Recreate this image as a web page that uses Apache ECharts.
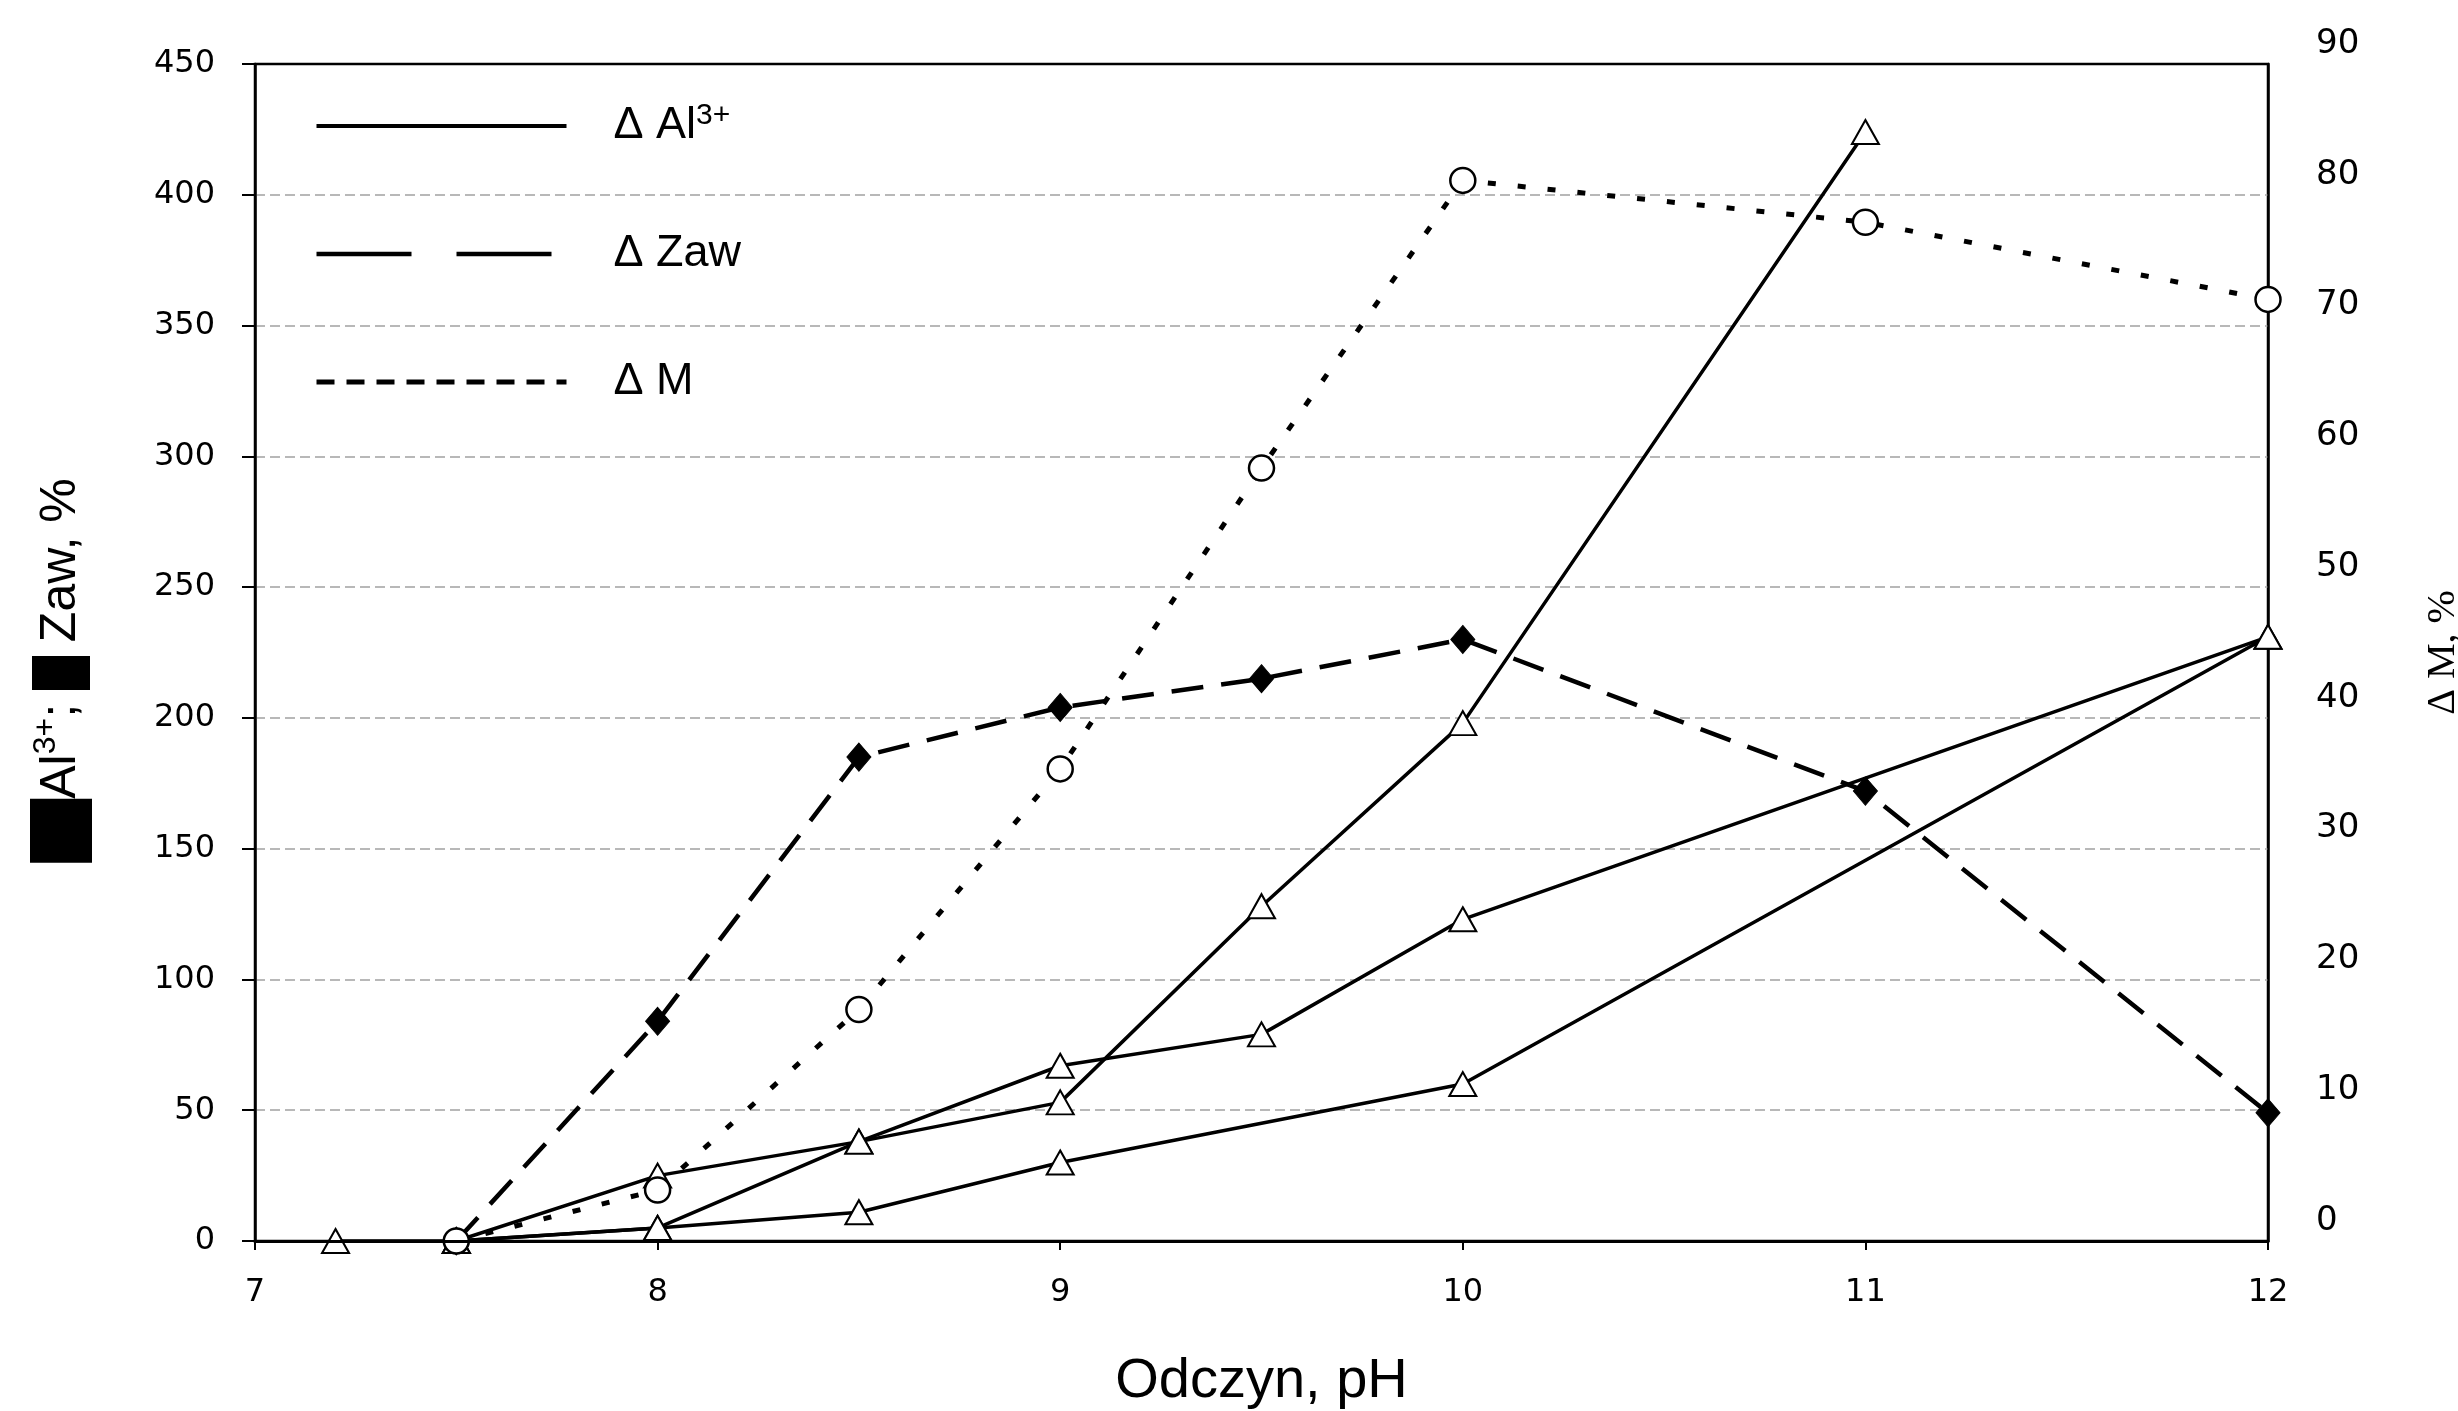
<!DOCTYPE html>
<html>
<head>
<meta charset="utf-8">
<script src="https://cdn.jsdelivr.net/npm/echarts@6/dist/echarts.min.js"></script>
<style>
html,body{margin:0;padding:0;background:#fff;}
#chart{width:2458px;height:1411px;}
</style>
</head>
<body>
<div id="chart"></div>
<script>
// ---- data ----
const phA  = [7.2, 7.5, 8, 8.5, 9, 9.5, 10, 11];
const alA  = [0, 0, 25, 38, 53, 128, 198, 424];
const phB  = [7.5, 8, 8.5, 9, 9.5, 10, 12];
const alB  = [0, 5, 38, 67, 79, 123, 231];
const phC  = [7.5, 8, 8.5, 9, 10, 12];
const alC  = [0, 5, 11, 30, 60, 231];
const phZaw = [7.5, 8, 8.5, 9, 9.5, 10, 11, 12];
const zaw   = [0, 84, 185, 204, 215, 230, 172, 49];
const phM   = [7.5, 8, 8.5, 9, 9.5, 10, 11, 12];
const dM    = [0, 3.9, 17.7, 36.1, 59.1, 81.1, 77.9, 72.0];
const xRange = [7, 12, 1];      // min, max, step (pH)
const leftRange = [0, 450, 50]; // Al3+, Zaw %
const rightRange = [0, 90, 10]; // dM %

const zip = (xs, ys) => xs.map((x, i) => [x, ys[i]]);
const SANS = 'Liberation Sans';
const TICKF = 'DejaVu Sans';

const triStyle = {
  type: 'line', symbol: 'triangle', symbolSize: [27, 24], yAxisIndex: 0, xAxisIndex: 0,
  itemStyle: { color: '#fff', borderColor: '#000', borderWidth: 2 },
  lineStyle: { color: '#000', width: 3.5, type: 'solid' },
  z: 3
};

const chart = echarts.init(document.getElementById('chart'), null, { renderer: 'canvas' });
chart.setOption({
  backgroundColor: '#fff',
  animation: false,
  grid: {
    left: 255, right: 190, top: 64, bottom: 170,
    outerBoundsMode: 'none', containLabel: false,
    show: true, borderColor: '#000', borderWidth: 2.5, backgroundColor: 'transparent'
  },
  legend: {
    orient: 'vertical', left: 309, top: 96, itemWidth: 250, itemHeight: 30, itemGap: 83,
    selectedMode: false,
    itemStyle: { opacity: 0 },
    data: [
      { name: 'Al', lineStyle: { type: 'solid', width: 4, color: '#000' } },
      { name: 'Zaw', lineStyle: { type: [95, 45], width: 4.5, color: '#000' } },
      { name: 'M', lineStyle: { type: [18, 12], width: 5, color: '#000' } }
    ],
    formatter: function (n) {
      if (n === 'Al') return '{g| }{t|Δ Al}{s|3+}';
      if (n === 'Zaw') return '{g| }{t|Δ Zaw}';
      return '{g| }{t|Δ M}';
    },
    textStyle: {
      color: '#000', fontFamily: SANS, fontSize: 44,
      rich: {
        g: { width: 42 },
        t: { fontFamily: SANS, fontSize: 45, color: '#000' },
        s: { fontFamily: SANS, fontSize: 30, color: '#000', verticalAlign: 'top', padding: [0, 0, 20, 0] }
      }
    }
  },
  xAxis: [
    {
      type: 'value', min: xRange[0], max: xRange[1], interval: xRange[2],
      name: 'Odczyn, pH', nameLocation: 'middle', nameGap: 113,
      nameTextStyle: { fontFamily: SANS, fontSize: 56, color: '#000' },
      axisLine: { lineStyle: { color: '#000', width: 2 } },
      axisTick: { show: true, length: 9, lineStyle: { color: '#000', width: 2 } },
      axisLabel: { fontFamily: TICKF, fontSize: 32, color: '#000', margin: 36 },
      splitLine: { show: false }
    },
    {
      type: 'value', position: 'top', min: xRange[0], max: xRange[1], interval: xRange[2],
      z: 10,
      axisLine: { show: true, lineStyle: { color: '#000', width: 3 } },
      axisTick: { show: false }, axisLabel: { show: false }, splitLine: { show: false }
    }
  ],
  yAxis: [
    {
      type: 'value', position: 'left', min: leftRange[0], max: leftRange[1], interval: leftRange[2],
      name: '{q1| }{t|Al}{s|3+}{t|; }{q2| }{t| Zaw, %}{e| }',
      nameLocation: 'middle', nameRotate: 90, nameGap: 163,
      nameTextStyle: {
        color: '#000', fontFamily: SANS, fontSize: 50,
        rich: {
          q1: { width: 64, height: 62, backgroundColor: '#000' },
          q2: { width: 34, height: 58, backgroundColor: '#000' },
          t: { fontFamily: SANS, fontSize: 50, color: '#000' },
          s: { fontFamily: SANS, fontSize: 32, color: '#000', verticalAlign: 'top', padding: [0, 0, 18, 0] },
          e: { width: 36 }
        }
      },
      axisLine: { show: true, lineStyle: { color: '#000', width: 2.5 } },
      axisTick: { show: true, length: 13, lineStyle: { color: '#000', width: 2 } },
      axisLabel: { fontFamily: TICKF, fontSize: 32, color: '#000', margin: 40 },
      splitLine: { show: true, showMinLine: false, showMaxLine: false, lineStyle: { color: '#b8b8b8', width: 2, type: [10, 5] } }
    },
    {
      type: 'value', position: 'right', min: rightRange[0], max: rightRange[1], interval: rightRange[2],
      name: 'Δ M, %', nameLocation: 'middle', nameRotate: 90, nameGap: 155,
      nameTextStyle: { fontFamily: 'Liberation Serif', fontSize: 40, color: '#000' },
      axisLine: { show: true, lineStyle: { color: '#000', width: 2.5 } },
      axisTick: { show: false },
      axisLabel: { fontFamily: TICKF, fontSize: 34, color: '#000', margin: 48, verticalAlign: 'bottom', lineHeight: 40 },
      splitLine: { show: false }
    }
  ],
  series: [
    Object.assign({}, triStyle, { name: 'Al', data: zip(phA, alA) }),
    Object.assign({}, triStyle, { name: 'Al', data: zip(phB, alB) }),
    Object.assign({}, triStyle, { name: 'Al', data: zip(phC, alC) }),
    {
      name: 'Zaw', type: 'line', yAxisIndex: 0, xAxisIndex: 0, data: zip(phZaw, zaw),
      symbol: 'diamond', symbolSize: [24, 28],
      itemStyle: { color: '#000', borderColor: '#000' },
      lineStyle: { color: '#000', width: 4.5, type: [32, 18] },
      z: 4
    },
    {
      name: 'M', type: 'line', yAxisIndex: 1, xAxisIndex: 0, data: zip(phM, dM),
      symbol: 'circle', symbolSize: 25,
      itemStyle: { color: '#fff', borderColor: '#000', borderWidth: 2.5 },
      lineStyle: { color: '#000', width: 5, type: [8, 22] },
      z: 5
    }
  ]
});
</script>
</body>
</html>
